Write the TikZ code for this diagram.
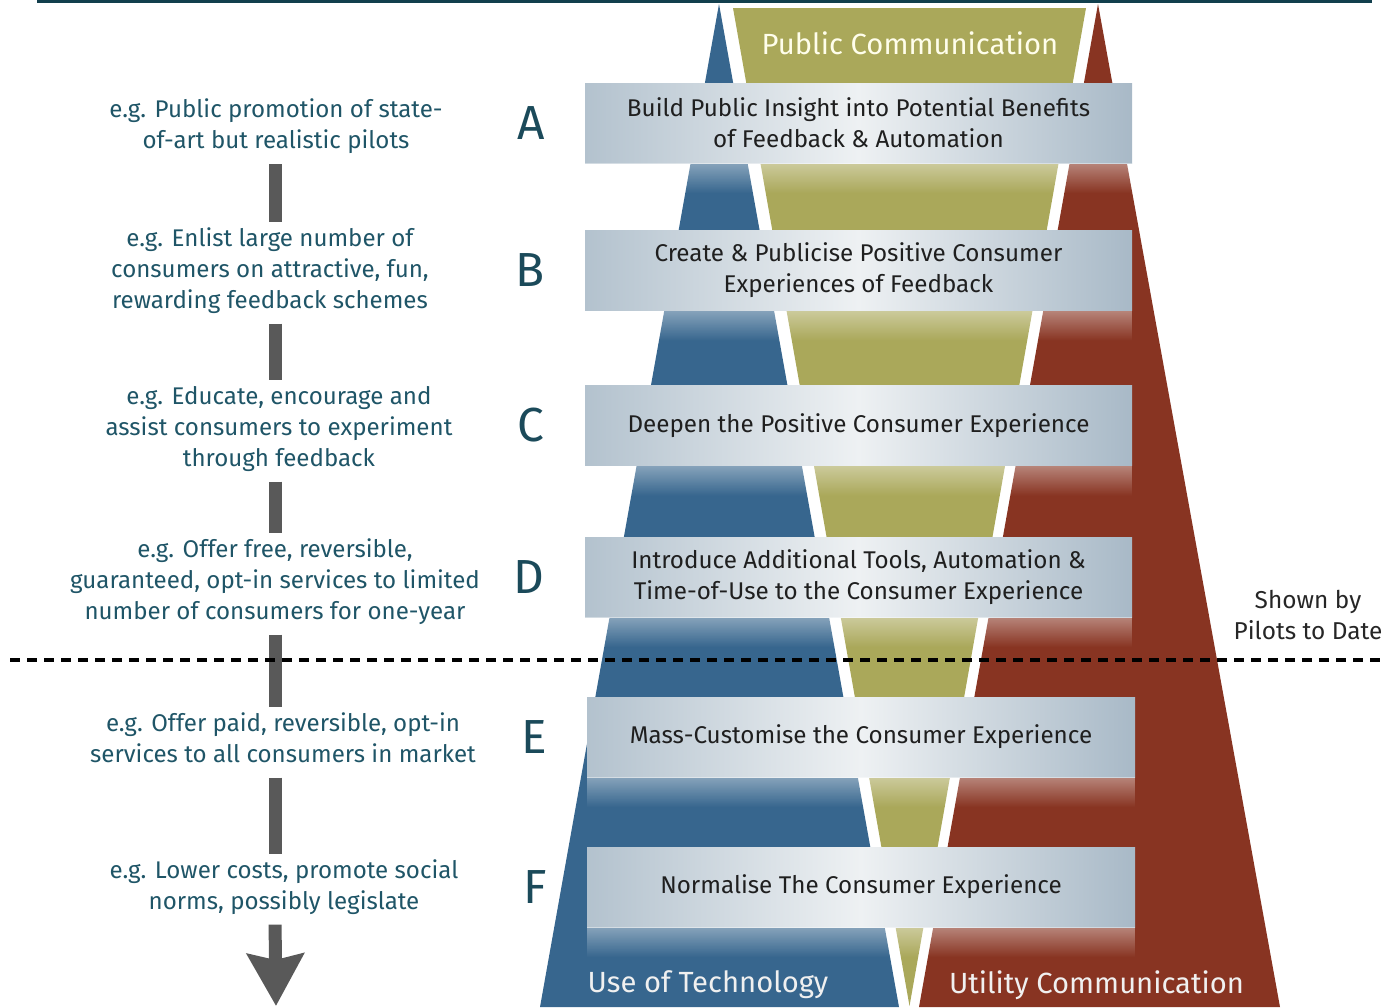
\documentclass[tikz,border=0pt]{standalone}
\usepackage{fontspec}
\setmainfont{Fira Sans}
\usetikzlibrary{arrows.meta,positioning,fadings}
\definecolor{techblue}{HTML}{37668E}
\definecolor{pubolive}{HTML}{AAA85A}
\definecolor{utilred}{HTML}{883422}
\definecolor{stepink}{HTML}{1F5567}
\definecolor{letterink}{HTML}{1B4A5A}
\definecolor{topbar}{HTML}{123F4D}
\definecolor{silverL}{HTML}{B3C2CE}
\definecolor{silverM}{HTML}{EEF1F3}
\definecolor{silverR}{HTML}{A8B9C7}
\begin{document}
\begin{tikzpicture}[x=1bp,y=-1bp,
    band/.style={minimum width=547bp, minimum height=80bp, inner sep=0pt,
      left color=silverL, right color=silverR, middle color=silverM,
      text=black!88, align=center, font=\fontsize{24.3}{31}\selectfont},
    glare/.style={white, fill opacity=.4, path fading=south},
    letter/.style={inner sep=0pt, text=letterink, font=\fontsize{48}{48}\selectfont},
    example/.style={inner sep=0pt, text=stepink, align=center, font=\fontsize{24.2}{31}\selectfont},
    bar/.style={line width=13bp, draw=black!65, shorten <=6bp, shorten >=2bp},
    title/.style={inner sep=0pt, font=\fontsize{29.3}{30}\selectfont}]
  \useasboundingbox (0,0) rectangle (1393,1007);
  \fill[topbar] (37,0) rectangle (1372,3);
  % the three wedges
  \fill[techblue] (719,4) -- (899,1007) -- (540,1007) -- cycle;
  \fill[utilred] (1098,4) -- (1280,1007) -- (919,1007) -- cycle;
  \fill[pubolive] (733,8) -- (1086,8) -- (909.5,1006) -- cycle;
  % steps
  \node[band] (A) at (858.5,123) {Build Public Insight into Potential Benefits\\of Feedback \& Automation};
  \node[band] (B) at (858.5,270.5) {Create \& Publicise Positive Consumer\\Experiences of Feedback};
  \node[band] (C) at (858.5,425.5) {Deepen the Positive Consumer Experience};
  \node[band] (D) at (858.5,577) {Introduce Additional Tools, Automation \&\\Time-of-Use to the Consumer Experience};
  \node[band, minimum width=548bp] (E) at (861,737) {Mass-Customise the Consumer Experience};
  \node[band, minimum width=548bp] (F) at (861,887) {Normalise The Consumer Experience};
  \foreach \s in {A,...,F}
    \fill[glare] (\s.south west) rectangle ([yshift=-30bp]\s.south east);
  \foreach \s in {A,...,F}
    \node[letter, left=40bp of \s] (l\s) {\s};
  % examples on the left
  \coordinate (ax) at (275,0);
  \node[example] (eA) at (276,127) {\strut e.g. Public promotion of state-\\of-art but realistic pilots\strut};
  \node[example] (eB) at (270,271) {\strut e.g. Enlist large number of\\consumers on attractive, fun,\\rewarding feedback schemes\strut};
  \node[example] (eC) at (279,429) {\strut e.g. Educate, encourage and\\assist consumers to experiment\\through feedback\strut};
  \node[example] (eD) at (275,582) {\strut e.g. Offer free, reversible,\\guaranteed, opt-in services to limited\\number of consumers for one-year\strut};
  \node[example] (eE) at (283,740.5) {\strut e.g. Offer paid, reversible, opt-in\\services to all consumers in market\strut};
  \node[example] (eF) at (284,887.5) {\strut e.g. Lower costs, promote social\\norms, possibly legislate\strut};
  \draw[bar] (eA.south -| ax) -- (eB.north -| ax);
  \draw[bar] (eB.south -| ax) -- (eC.north -| ax);
  \draw[bar] (eC.south -| ax) -- (eD.north -| ax);
  \draw[bar] (eD.south -| ax) -- (eE.north -| ax);
  \draw[bar] (eE.south -| ax) -- (eF.north -| ax);
  \coordinate (tip) at (276,1006);
  \draw[bar, shorten >=0pt, -{Stealth[length=52bp,width=56bp,inset=6bp]}] (eF.south -| ax) -- (tip);
  % pilots line
  \coordinate (cutL) at (10,660);
  \coordinate (cutR) at (1386,660);
  \draw[line width=4bp, dash pattern=on 10bp off 7bp] (cutL) -- (cutR);
  \node[align=center, text=black!85, font=\fontsize{24.5}{31}\selectfont] (pilots) at (1308,615) {Shown by\\Pilots to Date};
  % wedge titles
  \node[title, text=yellow!8] (pub) at (910,43) {Public Communication};
  \node[title, text=white!94!black] (tech) at (708,985) {Use of Technology};
  \node[title, text=white!94!black] (util) at (1096.5,985) {Utility Communication};
\end{tikzpicture}
\end{document}
